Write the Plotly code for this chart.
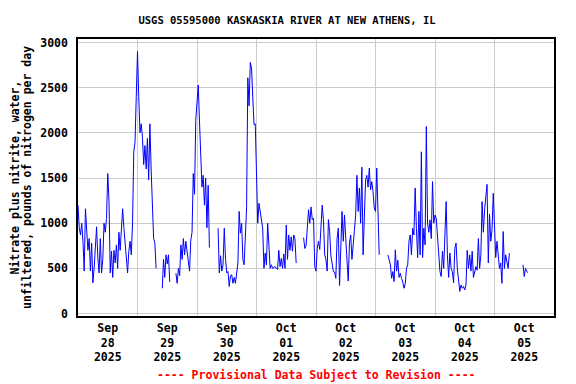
import pandas as pd
import plotly.graph_objects as go

# Half-hourly nitrate + nitrite load (pounds of N per day); None = missing
sep28 = [1200, 950, 870, 1000, 800, 470, 1160, 850, 700, 830, 470, 780,
         340, 500, 750, 960, 620, 450, 830, 450, 600, 1000, 900, 1050,
         1550, 1250, 450, 690, 400, 700, 560, 760, 500, 900, 700, 880,
         1160, 950, 800, 600, 450, 690, 800, 650, 1000, 1790, 1900, 2400]
sep29 = [2900, 2400, 2000, 2100, 1950, 1650, 1860, 1600, 1940, 1480, 2100, 1600,
         1170, 830, 780, 500, None, None, None, None, 280, 600, 400, 650,
         550, 650, 350, None, None, None, None, 446, 335, 500, 420, 760,
         600, 830, 650, 800, 700, 620, 470, 815, 900, 1550, 1320, 2140]
sep30 = [2300, 2530, 2130, 1740, 1400, 1530, 1200, 1500, 950, 1420, 730, None,
         None, None, None, None, None, 945, 450, 640, 470, 540, 945, 600,
         450, 465, 300, 420, 430, 335, 400, 335, 450, 560, 1130, 890,
         1000, 600, 540, 830, 1170, 2610, 2300, 2780, 2716, 2400, 2090, 2100]
oct01 = [1450, 1000, 1220, 1130, 1000, 945, 500, 670, 540, 1000, 760, 500,
         540, 500, 510, 520, 500, 490, 700, 520, 610, 500, 660, 500,
         980, 600, 870, 700, 850, 690, 870, 830, 560, None, None, None,
         None, None, 840, 720, 750, 963, 1150, 1000, 1180, 1040, 1055, 520]
oct02 = [470, 720, 800, 710, 1010, 1200, 1040, 650, 600, 470, 1040, 910,
         640, 540, 465, 460, 390, 830, 945, 310, 740, 1130, 800, 1090,
         830, 610, 360, 780, 870, 600, 815, 920, 1090, 1530, 1130, 1390,
         1000, 1620, 650, 1200, 1480, 1530, 1400, 1610, 1370, 1460, 1350, 1170]
oct03 = [1130, 1610, 930, 650, None, None, None, None, None, None, 650, 575,
         540, 390, 465, 354, 705, 470, 590, 400, 446, 390, 350, 280,
         330, 500, 540, 800, 870, 650, 945, 870, 1390, 940, 620, 1130,
         650, 1790, 620, 945, 760, 2070, 1000, 900, 1037, 830, 1461, 1000]
oct04 = [1090, 1055, 830, 740, 465, 410, 690, 500, 1020, 1240, 650, 400,
         670, 500, 465, 340, 723, 780, 500, 317, 245, 317, 280, 300,
         262, 317, 700, 500, 650, 470, 690, 400, 480, 520, 480, 830,
         500, 650, 1240, 900, 1150, 1300, 1430, 560, 1100, 800, 930, 1330]
oct05 = [1000, 620, 800, 600, 500, 560, 335, 908, 500, 650, 575, 500,
         668, None, None, None, None, None, None, None, None, None, None, 540,
         410, 500, 465, 455, None, None, None, None, None, None, None, None,
         None, None, None, None, None, None, None, None, None, None, None, None]

values = sep28 + sep29 + sep30 + oct01 + oct02 + oct03 + oct04 + oct05
times = pd.date_range("2025-09-28 00:00", periods=len(values), freq="30min")

day_labels = ["Sep<br>28<br>2025", "Sep<br>29<br>2025", "Sep<br>30<br>2025",
              "Oct<br>01<br>2025", "Oct<br>02<br>2025", "Oct<br>03<br>2025",
              "Oct<br>04<br>2025", "Oct<br>05<br>2025"]
day_noons = [d + pd.Timedelta(hours=12) for d in pd.date_range("2025-09-28", periods=8, freq="D")]
midnights = list(pd.date_range("2025-09-29", periods=7, freq="D"))
y_ticks = [0, 500, 1000, 1500, 2000, 2500, 3000]

FONT = "DejaVu Sans Mono"

fig = go.Figure(go.Scatter(
    x=times, y=values, mode="lines", connectgaps=False,
    line=dict(color="#0000FF", width=1), showlegend=False))

fig.update_layout(
    width=568, height=376,
    margin=dict(l=70, r=22, t=31, b=68),
    paper_bgcolor="white", plot_bgcolor="white",
    font=dict(family=FONT, size=11.5, color="black", weight="bold"),
    title=dict(text="USGS 05595000 KASKASKIA RIVER AT NEW ATHENS, IL",
               x=0.4912, xref="container", xanchor="center",
               y=1 - 12 / 376, yref="container", yanchor="middle",
               font=dict(family=FONT, size=10.5, color="black", weight="bold")),
    xaxis=dict(
        range=["2025-09-28 00:00", "2025-10-06 00:00"],
        tickmode="array", tickvals=day_noons, ticktext=day_labels,
        tickangle=0, ticks="", showgrid=False, zeroline=False,
        showline=True, linecolor="black", linewidth=1.5, mirror=True,
        minor=dict(tickvals=midnights, showgrid=True, gridcolor="#cccccc",
                   gridwidth=1, ticks=""),
    ),
    yaxis=dict(
        range=[-27, 3039], tickmode="array", tickvals=y_ticks,
        ticks="", ticklabelstandoff=6,
        showgrid=True, gridcolor="#cccccc", gridwidth=1, zeroline=False,
        showline=True, linecolor="black", linewidth=1.5, mirror=True,
    ),
    annotations=[
        dict(text="Nitrate plus nitrite, water,", textangle=-90,
             xref="paper", yref="paper", x=0, y=0.5, xanchor="center",
             yanchor="middle", xshift=-64, showarrow=False,
             font=dict(family=FONT, size=11.5, color="black", weight="bold")),
        dict(text="unfiltered, pounds of nitrogen per day", textangle=-90,
             xref="paper", yref="paper", x=0, y=0.5, xanchor="center",
             yanchor="middle", xshift=-51.5, showarrow=False,
             font=dict(family=FONT, size=11.5, color="black", weight="bold")),
        dict(text="---- Provisional Data Subject to Revision ----",
             xref="paper", yref="paper", x=0.5, y=0, xanchor="center",
             yanchor="middle", yshift=-59, showarrow=False,
             font=dict(family=FONT, size=11.5, color="#FF0000", weight="bold")),
    ],
)

fig.write_html("out.html")
